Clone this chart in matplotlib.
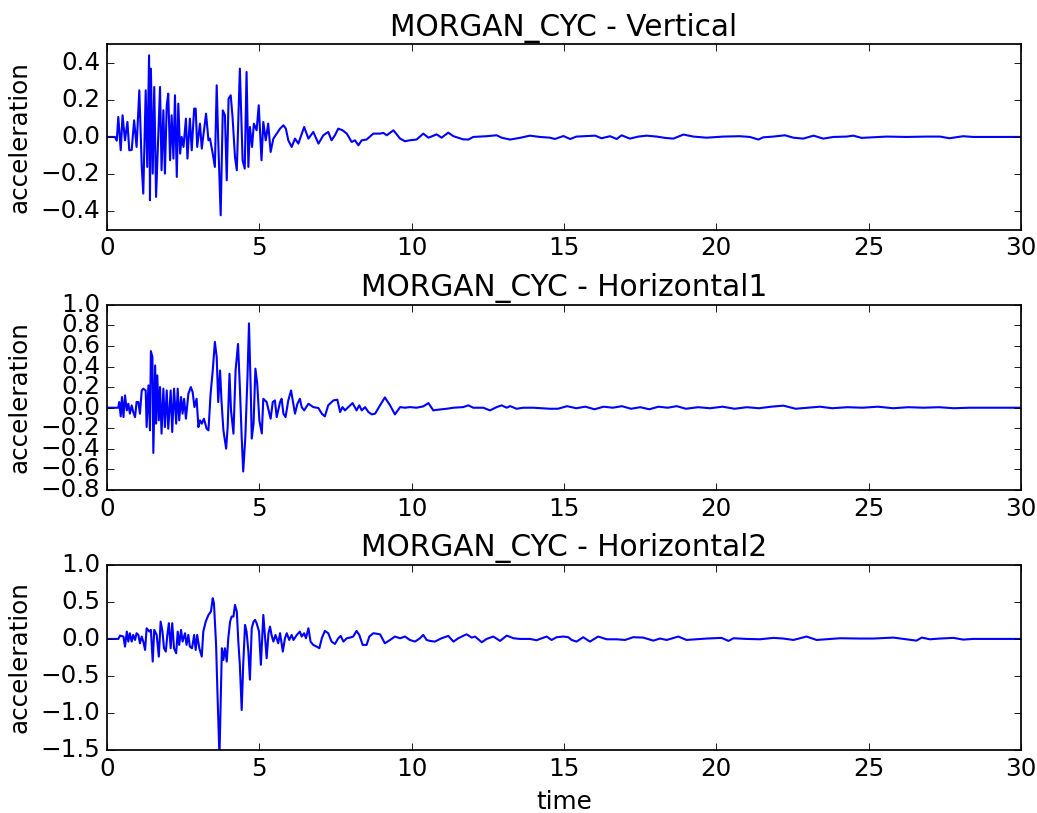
import matplotlib
matplotlib.use("Agg")
import matplotlib.pyplot as plt

# ---------------- data (time in s, acceleration) ----------------
t_vert = [0, 0.26, 0.32, 0.37, 0.45, 0.51, 0.59, 0.67, 0.73, 0.81, 0.89, 0.97, 1.06, 1.14, 1.19,
          1.27, 1.32, 1.38, 1.41, 1.44, 1.50, 1.55, 1.61, 1.68, 1.74, 1.79, 1.85, 1.90, 1.96, 2.01,
          2.07, 2.12, 2.18, 2.23, 2.29, 2.34, 2.40, 2.45, 2.51, 2.59, 2.64, 2.72, 2.78, 2.86, 2.91,
          2.96, 3.05, 3.11, 3.25, 3.33, 3.38, 3.47, 3.54, 3.60, 3.65, 3.73, 3.80, 3.87, 3.93, 3.99,
          4.06, 4.12, 4.20, 4.26, 4.36, 4.45, 4.52, 4.58, 4.64, 4.69, 4.76, 4.82, 4.91, 4.98, 5.07,
          5.13, 5.21, 5.29, 5.37, 5.46, 5.57, 5.68, 5.79, 5.87, 5.95, 6.06, 6.17, 6.28, 6.47, 6.61,
          6.77, 6.94, 7.10, 7.26, 7.37, 7.48, 7.59, 7.73, 7.87, 8.03, 8.14, 8.25, 8.36, 8.52, 8.74,
          8.96, 9.07, 9.18, 9.40, 9.62, 9.78, 9.94, 10.16, 10.38, 10.55, 10.82, 10.98, 11.20, 11.37,
          11.69, 11.86, 12.02, 12.46, 12.79, 12.95, 13.23, 13.55, 13.88, 14.21, 14.54, 14.70, 14.98,
          15.20, 15.41, 15.74, 16.02, 16.23, 16.51, 16.73, 16.89, 17.16, 17.44, 17.71, 18.04, 18.31,
          18.59, 18.92, 19.24, 19.68, 20.23, 20.77, 21.10, 21.38, 21.54, 21.87, 22.25, 22.53, 22.85,
          23.19, 23.51, 23.84, 24.28, 24.49, 24.77, 25.15, 25.59, 26.24, 26.90, 27.34, 27.65, 28.10,
          28.43, 30.0]
a_vert = [0, 0, -0.02, 0.108, -0.072, 0.117, -0.018, 0.081, -0.072, -0.07, 0.09, -0.054, 0.252, -0.162, -0.306,
          0.252, -0.162, 0.441, -0.342, 0.369, -0.198, 0.27, -0.324, 0.0, 0.27, -0.18, 0.144, -0.198, 0.171, 0.234,
          -0.126, 0.117, -0.117, 0.225, -0.216, 0.18, -0.09, 0.0, -0.054, 0.099, -0.117, 0.099, -0.072, 0.153, 0.153,
          -0.054, 0.072, -0.063, 0.126, -0.018, -0.009, -0.09, -0.162, 0.279, -0.018, -0.423, 0.144, 0.117, -0.234, 0.207,
          0.225, 0.108, -0.108, -0.18, 0.369, -0.126, -0.171, 0.351, -0.162, 0.054, -0.054, 0.072, 0.036, 0.171, -0.126,
          0.081, -0.018, 0.072, -0.081, -0.009, 0.018, 0.045, 0.063, 0.045, -0.018, -0.054, -0.009, -0.036, 0.054, -0.009,
          0.027, -0.036, 0.009, 0.027, -0.018, 0.009, 0.045, 0.036, 0.018, -0.027, -0.018, -0.045, -0.018, -0.014, 0.018,
          0.018, 0.022, 0.009, 0.036, -0.009, -0.023, -0.018, -0.014, 0.018, -0.004, 0.014, -0.004, 0.023, 0.004,
          -0.013, -0.014, 0.0, 0.004, 0.009, -0.004, -0.014, -0.005, 0.007, 0.0, -0.004, -0.011, 0.005,
          -0.011, 0.002, 0.005, 0.007, -0.007, 0.004, -0.011, 0.009, -0.009, 0.002, 0.007, 0.002, -0.005,
          -0.009, 0.013, 0.002, -0.004, 0.002, 0.004, 0.0, -0.014, -0.002, 0.002, 0.009, -0.004, -0.009,
          0.007, -0.009, 0.0, 0.002, 0.007, -0.005, -0.002, 0.002, 0.0, 0.002, 0.002, -0.007, 0.004,
          0.0, 0.0]

t_h1 = [0, 0.37, 0.40, 0.45, 0.49, 0.54, 0.59, 0.65, 0.70, 0.75, 0.81, 0.86, 0.92, 0.97, 1.03, 1.08,
        1.14, 1.19, 1.27, 1.30, 1.36, 1.41, 1.44, 1.49, 1.52, 1.58, 1.61, 1.65, 1.70, 1.74, 1.79, 1.85,
        1.90, 1.96, 2.01, 2.09, 2.14, 2.20, 2.27, 2.32, 2.37, 2.43, 2.48, 2.53, 2.59, 2.67, 2.75, 2.81,
        2.87, 2.94, 3.00, 3.05, 3.11, 3.18, 3.27, 3.33, 3.40, 3.47, 3.54, 3.60, 3.65, 3.71, 3.76, 3.82,
        3.91, 3.96, 4.02, 4.07, 4.15, 4.22, 4.30, 4.36, 4.42, 4.47, 4.54, 4.61, 4.66, 4.72, 4.75, 4.81,
        4.87, 4.93, 5.00, 5.08, 5.13, 5.24, 5.33, 5.37, 5.44, 5.51, 5.57, 5.68, 5.73, 5.79, 5.86, 5.95,
        6.04, 6.12, 6.17, 6.25, 6.33, 6.39, 6.47, 6.61, 6.77, 6.94, 7.05, 7.15, 7.26, 7.43, 7.56, 7.65,
        7.73, 7.81, 7.92, 8.06, 8.19, 8.28, 8.36, 8.47, 8.58, 8.69, 8.80, 8.96, 9.12, 9.29, 9.45, 9.62,
        9.78, 9.94, 10.16, 10.38, 10.55, 10.71, 10.87, 11.15, 11.37, 11.69, 11.86, 12.02, 12.35, 12.57,
        12.79, 12.95, 13.12, 13.23, 13.44, 13.66, 13.99, 14.54, 14.8, 15.1, 15.4, 15.7, 16.0, 16.3,
        16.6, 16.9, 17.2, 17.5, 17.8, 18.1, 18.4, 18.7, 19.0, 19.4, 19.8, 20.2, 20.6, 21.0, 21.4, 21.8,
        22.2, 22.6, 23.0, 23.4, 23.8, 24.3, 24.8, 25.3, 25.8, 26.3, 26.8, 27.3, 27.8, 28.3, 30.0]
a_h1 = [0, 0, 0.055, -0.084, 0.104, -0.091, 0.12, -0.026, 0.039, -0.058, 0.023, -0.042, -0.091, 0.055, 0.055, -0.058,
        0.168, 0.185, 0.168, -0.188, 0.217, -0.22, 0.55, 0.492, -0.44, 0.411, -0.155, 0.314, -0.123, 0.201, -0.252, 0.185,
        -0.188, 0.168, -0.204, 0.168, -0.236, 0.185, -0.155, 0.185, -0.123, 0.104, -0.058, 0.087, -0.107, 0.136, 0.201, 0.152,
        0.006, 0.087, -0.188, -0.123, -0.155, -0.107, -0.204, -0.22, 0.136, 0.362, 0.64, 0.492, 0.055, 0.362, 0.055, -0.22,
        -0.398, -0.188, 0.33, -0.026, -0.252, 0.362, 0.62, 0.201, -0.285, -0.62, -0.285, 0.298, 0.82, 0.136, -0.30, -0.155,
        0.38, 0.233, -0.123, -0.25, 0.087, 0.055, -0.058, -0.107, 0.055, 0.071, -0.091, 0.055, 0.087, -0.058, -0.091, 0.071,
        0.168, 0.026, -0.058, 0.039, 0.087, 0.006, -0.026, 0.039, 0.006, -0.003, -0.058, -0.084, 0.023, 0.071, 0.078, -0.042,
        0.006, -0.026, 0.006, 0.045, -0.026, 0.023, -0.026, 0.006, -0.042, -0.065, -0.058, 0.023, 0.10, 0.023, -0.065, 0.006,
        0.0, 0.006, 0.0, 0.013, 0.045, -0.026, -0.019, -0.01, 0.0, 0.006, 0.023, 0.0, 0.0, -0.026,
        0.006, 0.023, 0.0, 0.016, -0.01, 0.0, 0.0, -0.01, -0.01, 0.015, -0.005, 0.01, -0.015, 0.01,
        0.0, 0.015, -0.01, 0.005, -0.015, 0.01, 0.0, 0.015, -0.01, 0.005, -0.005, 0.01, -0.01, 0.005, -0.005, 0.01,
        0.02, -0.01, 0.0, 0.01, -0.005, 0.005, 0.0, 0.01, -0.005, 0.005, 0.0, 0.005, -0.005, 0.0, 0.0]

t_h2 = [0, 0.37, 0.43, 0.54, 0.59, 0.65, 0.70, 0.75, 0.81, 0.86, 0.92, 0.97, 1.03, 1.08, 1.14, 1.19,
        1.25, 1.30, 1.39, 1.44, 1.50, 1.55, 1.63, 1.70, 1.76, 1.82, 1.87, 1.93, 1.98, 2.03, 2.09, 2.14,
        2.20, 2.27, 2.32, 2.37, 2.43, 2.48, 2.56, 2.61, 2.67, 2.72, 2.79, 2.86, 2.91, 2.96, 3.03, 3.11,
        3.16, 3.24, 3.33, 3.41, 3.47, 3.51, 3.58, 3.63, 3.69, 3.73, 3.77, 3.82, 3.87, 3.93, 3.98, 4.04,
        4.09, 4.15, 4.20, 4.26, 4.31, 4.36, 4.42, 4.47, 4.53, 4.58, 4.64, 4.69, 4.75, 4.81, 4.86, 4.91,
        4.99, 5.05, 5.13, 5.19, 5.24, 5.30, 5.35, 5.40, 5.46, 5.53, 5.62, 5.68, 5.77, 5.84, 5.90, 5.98,
        6.06, 6.12, 6.23, 6.33, 6.39, 6.47, 6.53, 6.61, 6.68, 6.77, 6.88, 6.97, 7.05, 7.15, 7.26, 7.37,
        7.48, 7.59, 7.67, 7.76, 7.87, 7.98, 8.08, 8.19, 8.28, 8.39, 8.52, 8.61, 8.74, 8.96, 9.12, 9.29,
        9.45, 9.62, 9.78, 9.94, 10.11, 10.27, 10.38, 10.49, 10.60, 10.76, 10.98, 11.20, 11.37, 11.53,
        11.80, 11.97, 12.08, 12.30, 12.46, 12.68, 12.90, 13.12, 13.34, 13.55, 13.88, 14.10, 14.21,
        14.43, 14.59, 14.76, 14.98, 15.14, 15.25, 15.41, 15.63, 15.85, 16.12, 16.40, 16.73, 17.00,
        17.27, 17.60, 17.93, 18.15, 18.37, 18.75, 19.02, 19.68, 20.17, 20.40, 20.56, 20.99, 21.43,
        21.87, 22.20, 22.53, 22.96, 23.29, 24.06, 24.71, 25.15, 25.81, 26.24, 26.57, 26.74, 27.01,
        27.34, 27.78, 28.10, 28.43, 30.0]
a_h2 = [0, 0, 0.045, 0.032, -0.104, 0.099, -0.036, 0.077, -0.036, 0.054, -0.014, 0.077, 0.054, -0.059, 0.032, -0.036,
        -0.149, 0.144, 0.099, 0.122, -0.306, 0.122, 0.054, -0.239, 0.234, 0.099, -0.126, -0.171, 0.054, 0.212, -0.126, 0.212,
        -0.126, -0.194, 0.099, -0.081, 0.122, -0.036, 0.077, -0.081, 0.054, -0.104, -0.126, 0.054, -0.149, 0.054, -0.126, -0.239,
        0.099, 0.234, 0.324, 0.369, 0.55, 0.48, -0.081, -0.8, -1.6, -0.89, -0.126, -0.284, -0.126, -0.306, 0.009, 0.234,
        0.302, 0.302, 0.46, 0.369, -0.036, -0.352, -0.96, -0.352, 0.189, 0.099, -0.171, -0.55, 0.144, 0.234, 0.257, 0.212,
        0.099, -0.35, 0.324, 0.009, -0.261, 0.077, 0.167, 0.054, -0.036, 0.054, -0.059, 0.077, -0.171, 0.009, 0.077, -0.014,
        0.054, -0.014, 0.054, 0.099, 0.032, 0.077, 0.009, 0.144, -0.036, -0.081, -0.104, -0.126, 0.009, 0.108, 0.077, -0.036,
        -0.068, 0.009, 0.041, -0.036, 0.009, 0.018, 0.032, 0.108, 0.054, -0.081, -0.081, 0.032, 0.077, 0.063, -0.059, -0.014,
        0.032, 0.009, 0.032, -0.014, -0.036, 0.009, 0.054, -0.014, -0.027, -0.036, 0.009, 0.041, -0.036, 0.009,
        0.063, 0.018, 0.032, -0.045, 0.0, 0.032, -0.027, 0.045, 0.009, 0.0, 0.0, -0.018, 0.0,
        0.032, -0.014, 0.023, 0.032, 0.023, -0.014, -0.036, 0.023, -0.036, 0.032, -0.005, -0.005, -0.014,
        0.023, 0.018, -0.023, 0.005, -0.014, 0.032, -0.014, 0.005, 0.014, -0.027, 0.009, 0.0, -0.005,
        0.014, 0.005, -0.014, 0.032, -0.014, 0.009, 0.005, 0.005, 0.018, -0.005, -0.023, 0.018, -0.005,
        0.005, 0.014, -0.009, 0.0, 0.0]

titles = ["MORGAN_CYC - Vertical", "MORGAN_CYC - Horizontal1", "MORGAN_CYC - Horizontal2"]
x_ticks = [0, 5, 10, 15, 20, 25, 30]
y_ticks_list = [[-0.4, -0.2, 0.0, 0.2, 0.4],
                [-0.8, -0.6, -0.4, -0.2, 0.0, 0.2, 0.4, 0.6, 0.8, 1.0],
                [-1.5, -1.0, -0.5, 0.0, 0.5, 1.0]]
y_lims = [(-0.5, 0.5), (-0.8, 1.0), (-1.5, 1.0)]

# ---------------- plot ----------------
plt.style.use("classic")
plt.rcParams["font.family"] = ["DejaVu Sans"]
plt.rcParams["font.size"] = 14.2

fig = plt.figure(figsize=(1037 / 125, 813 / 125), dpi=125, facecolor="white")

left, width = 0.1032, 0.8814
bottoms = [0.7177, 0.3973, 0.0775]
height = 0.2277

series = [(t_vert, a_vert), (t_h1, a_h1), (t_h2, a_h2)]
for i, (tt, aa) in enumerate(series):
    ax = fig.add_axes([left, bottoms[i], width, height])
    ax.plot(tt, aa, color="b", linewidth=1.2)
    ax.set_xlim(0, 30)
    ax.set_ylim(*y_lims[i])
    ax.set_xticks(x_ticks)
    ax.set_yticks(y_ticks_list[i])
    ax.set_title(titles[i])
    ax.set_ylabel("acceleration")
    ax.set_facecolor("white")
    if i == 2:
        ax.set_xlabel("time")

fig.savefig("out.png", dpi=125, facecolor="white")
